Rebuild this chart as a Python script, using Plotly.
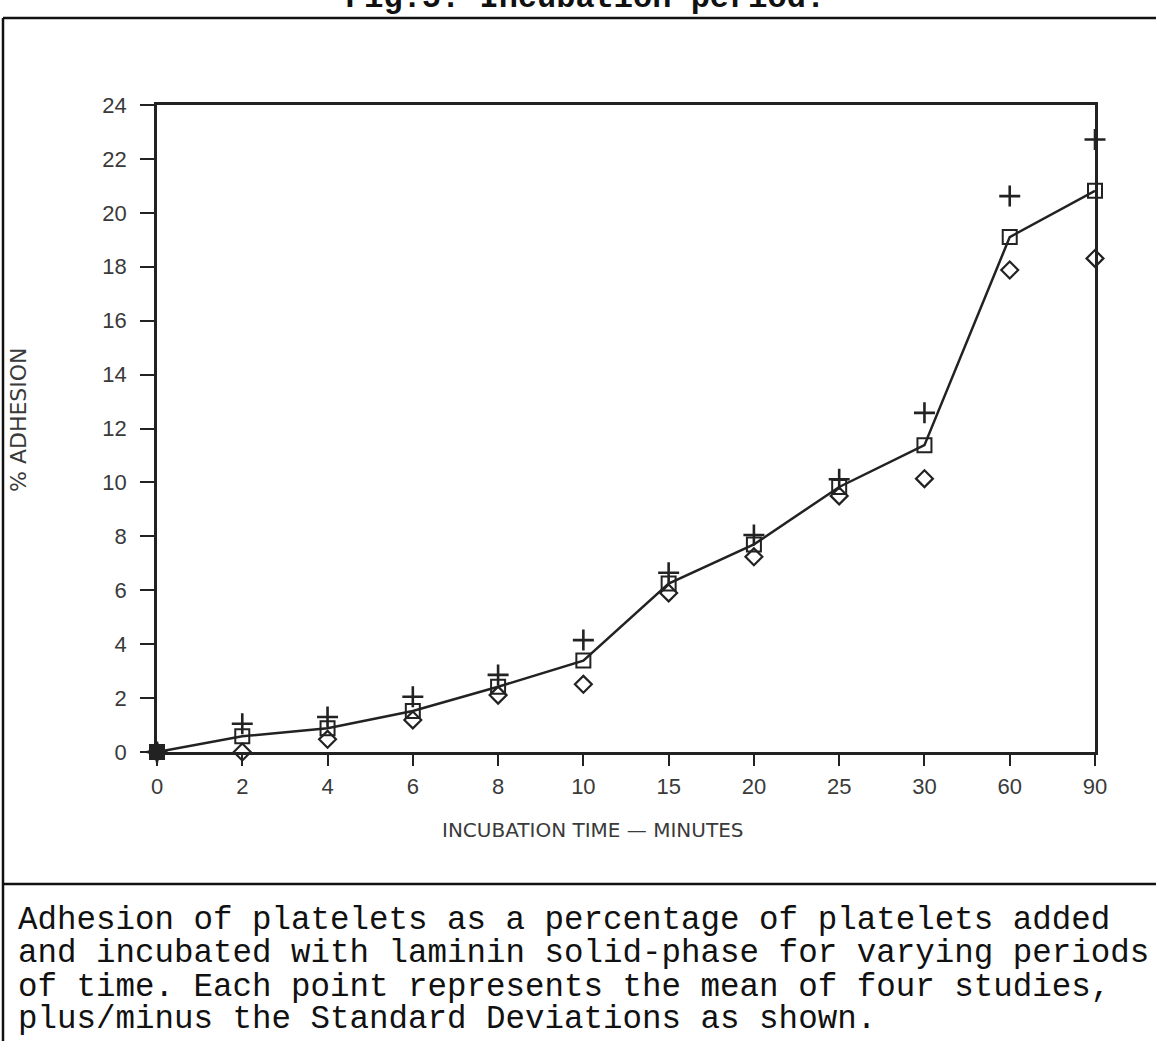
import plotly.graph_objects as go

# incubation time categories (minutes) and % adhesion
times = ['0', '2', '4', '6', '8', '10', '15', '20', '25', '30', '60', '90']
mean_adhesion = [0.0, 0.58, 0.88, 1.52, 2.42, 3.39, 6.25, 7.70, 9.83, 11.38, 19.10, 20.82]
plus_sd = [0.0, 1.05, 1.30, 2.05, 2.86, 4.15, 6.65, 8.05, 10.12, 12.58, 20.62, 22.72]
minus_sd = [0.0, 0.0, 0.47, 1.19, 2.11, 2.51, 5.90, 7.24, 9.50, 10.14, 17.88, 18.31]

caption = [
    "Adhesion of platelets as a percentage of platelets added",
    "and incubated with laminin solid-phase for varying periods",
    "of time. Each point represents the mean of four studies,",
    "plus/minus the Standard Deviations as shown.",
]

W, H = 1156, 1041
L, R, T, B = 157, 1095, 105, 752   # plot area in pixels


def px2x(p):
    return (p - L) / (R - L)


def px2y(p):
    return (B - p) / (B - T)


ink = '#222222'
mean_symbols = ['square'] + ['square-open'] * (len(times) - 1)

fig = go.Figure()
fig.add_trace(go.Scatter(x=times, y=plus_sd, mode='markers', cliponaxis=False,
                         marker=dict(symbol='cross-thin-open', size=15, color=ink,
                                     line=dict(color=ink, width=2.6))))
fig.add_trace(go.Scatter(x=times, y=minus_sd, mode='markers', cliponaxis=False,
                         marker=dict(symbol='diamond-open', size=13, color=ink,
                                     line=dict(color=ink, width=2.2))))
fig.add_trace(go.Scatter(x=times, y=mean_adhesion, mode='lines+markers', cliponaxis=False,
                         line=dict(color=ink, width=2.5),
                         marker=dict(symbol=mean_symbols, size=14, color=ink,
                                     line=dict(color=ink, width=2))))

tickfont = dict(family='Liberation Sans, Arial, sans-serif', size=22, color='#3a3a3a')
label_font = 'DejaVu Sans, sans-serif'
mono = 'Liberation Mono, Courier New, monospace'

fig.update_xaxes(type='category', range=[0, len(times) - 1], showgrid=False, zeroline=False,
                 showline=True, linecolor=ink, linewidth=2.5, mirror=True,
                 ticks='outside', ticklen=11, tickwidth=2, tickcolor=ink,
                 tickfont=tickfont, ticklabelstandoff=2)
fig.update_yaxes(range=[0, 24], dtick=2, showgrid=False, zeroline=False,
                 showline=True, linecolor=ink, linewidth=2.5, mirror=True,
                 ticks='outside', ticklen=14, tickwidth=2, tickcolor=ink,
                 tickfont=tickfont, ticklabelstandoff=9)

annotations = [
    dict(text='INCUBATION TIME \u2014 MINUTES', x=px2x(593), y=px2y(830),
         font=dict(family=label_font, size=20, color='#3a3a3a')),
    dict(text='% ADHESION', x=px2x(18), y=px2y(420), textangle=-90,
         font=dict(family=label_font, size=22, color='#3a3a3a')),
    dict(text='<b>Fig.5: Incubation period.</b>', x=px2x(343), y=px2y(-2), xanchor='left',
         font=dict(family=mono, size=32, color='#111111')),
]
caption_y = [920, 953, 987, 1019]
for line, yy in zip(caption, caption_y):
    annotations.append(dict(text=line, x=px2x(16), y=px2y(yy), xanchor='left',
                            font=dict(family=mono, size=32.5, color='#111111')))
for a in annotations:
    a.update(xref='paper', yref='paper', showarrow=False, yanchor='middle')
    a.setdefault('xanchor', 'center')

frame = dict(color='#111111', width=2.5)
shapes = [
    dict(type='line', x0=px2x(3), x1=px2x(1160), y0=px2y(18), y1=px2y(18)),
    dict(type='line', x0=px2x(3), x1=px2x(3), y0=px2y(18), y1=px2y(1045)),
    dict(type='line', x0=px2x(3), x1=px2x(1160), y0=px2y(884), y1=px2y(884)),
]
for s in shapes:
    s.update(xref='paper', yref='paper', line=frame, layer='above')

fig.update_layout(width=W, height=H, autosize=False,
                  margin=dict(l=L, r=W - R, t=T, b=H - B, pad=0),
                  paper_bgcolor='white', plot_bgcolor='white', showlegend=False,
                  annotations=annotations, shapes=shapes)

fig.write_html("out.html", config={'displayModeBar': False},
               post_script="document.body.style.margin='0';")
